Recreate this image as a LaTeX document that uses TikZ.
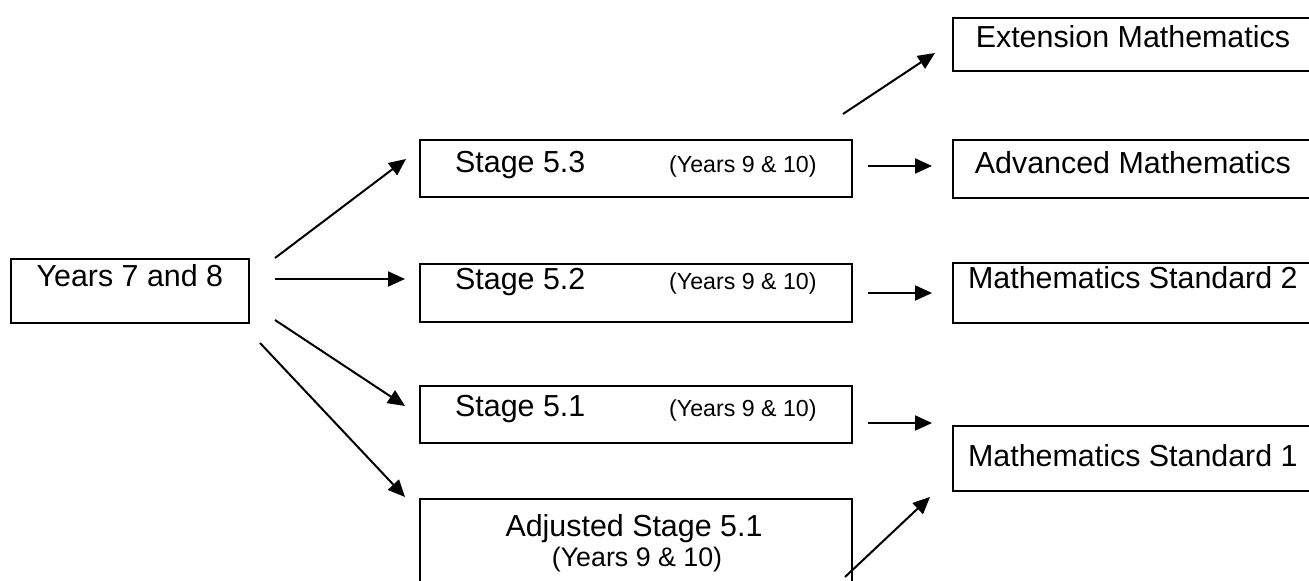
\documentclass[tikz,border=0pt]{standalone}
\usepackage{fontspec}
\setmainfont{Liberation Sans}
\usetikzlibrary{arrows.meta}
\newcommand{\yearsnine}{{\fontsize{11.6pt}{13pt}\selectfont (Years 9 \& 10)}}

\begin{document}
\begin{tikzpicture}[x=0.5pt, y=-0.5pt, line width=1pt, font=\fontsize{15.2pt}{18pt}\selectfont]
				\tikzset{plain box/.style={draw, line width=0.9pt, inner sep=0pt, anchor=north west, text height=14pt},
					stage box/.style={plain box, minimum width=216pt},
					course box/.style={plain box, minimum width=180pt},
					pointer/.style={-{Triangle[length=8.5pt, width=7.5pt]}}}
				\useasboundingbox (0,0) rectangle (1309,581);
				\clip (0,0) rectangle (1309,581);

				\node[plain box, minimum width=119pt, text depth=18pt] (years) at (10,258) {Years 7 and 8};

				\node[stage box, text height=16.5pt, text depth=12pt] (s53) at (419,139) {\makebox[107pt][l]{Stage 5.3}\yearsnine};
				\node[stage box, text height=13pt, text depth=16pt] (s52) at (419,263) {\makebox[107pt][l]{Stage 5.2}\yearsnine};
				\node[stage box, text height=15.5pt, text depth=13pt] (s51) at (419,385) {\makebox[107pt][l]{Stage 5.1}\yearsnine};
				\node[stage box, text height=0pt, minimum height=51pt] (adj) at (419,498) {};
				\node[anchor=base] (adjtitle) at (634,536) {Adjusted Stage 5.1};
				\node[anchor=base, font=\fontsize{13.4pt}{15pt}\selectfont] (adjyears) at (637,566) {(Years 9 \& 10)};

				\node[course box, text height=15pt, text depth=11.5pt] (ext) at (952,17) {Extension Mathematics};
				\node[course box, text height=17pt, text depth=12pt] (adv) at (952,139) {Advanced Mathematics};
				\node[course box, text height=13pt, text depth=17pt] (std2) at (952,262) {Mathematics Standard 2};
				\node[course box, text height=20.5pt, text depth=12pt] (std1) at (952,425) {Mathematics Standard 1};

				% arrow ends
				\coordinate (y53) at (275,258);  \coordinate (to53) at (406,159);
				\coordinate (y52) at (275,279);  \coordinate (to52) at (405,279);
				\coordinate (y51) at (275,320);  \coordinate (to51) at (405,406);
				\coordinate (yadj) at (260,343); \coordinate (toadj) at (405,497);
				\coordinate (f53up) at (843,114); \coordinate (toext) at (935,53);
				\coordinate (f53) at (868,166);  \coordinate (toadv) at (932,166);
				\coordinate (f52) at (868,293);  \coordinate (tostd2) at (932,293);
				\coordinate (f51) at (868,423);  \coordinate (tostd1) at (932,423);
				\coordinate (fadj) at (845,577); \coordinate (tostd1b) at (930,497);

				\draw[pointer] (y53) -- (to53);
				\draw[pointer] (y52) -- (to52);
				\draw[pointer] (y51) -- (to51);
				\draw[pointer] (yadj) -- (toadj);

				\draw[pointer] (f53up) -- (toext);
				\draw[pointer] (f53) -- (toadv);
				\draw[pointer] (f52) -- (tostd2);
				\draw[pointer] (f51) -- (tostd1);
				\draw[pointer] (fadj) -- (tostd1b);
			\end{tikzpicture}
\end{document}
